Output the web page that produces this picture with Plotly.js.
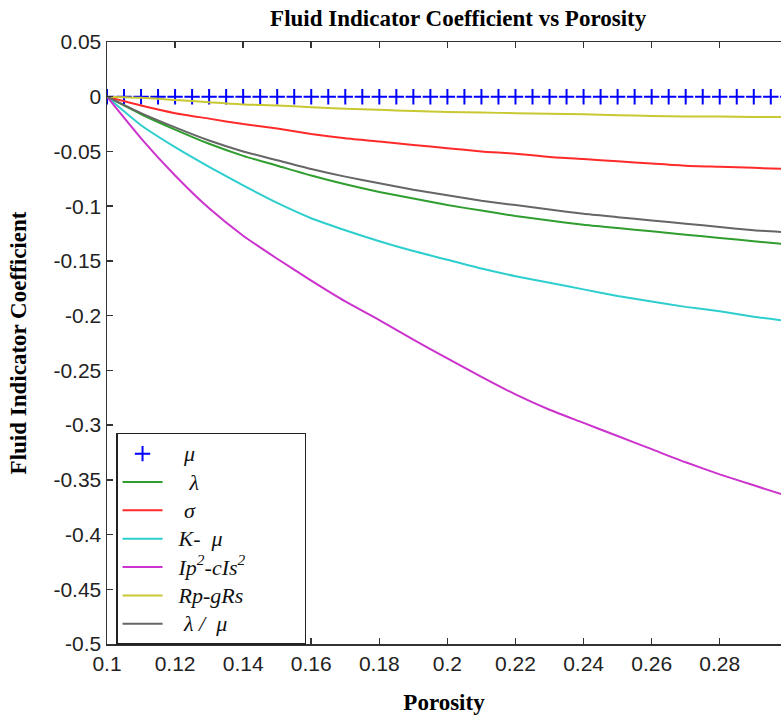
<!DOCTYPE html>
<html>
<head>
<meta charset="utf-8">
<script src="https://cdn.plot.ly/plotly-3.0.1.min.js"></script>
<style>html,body{margin:0;padding:0;background:#fff;}</style>
</head>
<body>
<div id="chart" style="width:781px;height:717px;"></div>
<script>
// Porosity values (x)
const porosity = [0.1, 0.11, 0.12, 0.13, 0.14, 0.15, 0.16, 0.17, 0.18, 0.19, 0.2, 0.21, 0.22, 0.23, 0.24, 0.25, 0.26, 0.27, 0.28, 0.29, 0.3];
// Series
const lambda    = [0, -0.016, -0.030, -0.043, -0.054, -0.063, -0.072, -0.080, -0.087, -0.093, -0.099, -0.104, -0.109, -0.113, -0.117, -0.120, -0.123, -0.126, -0.129, -0.132, -0.135];
const sigma     = [0, -0.008, -0.015, -0.020, -0.025, -0.029, -0.034, -0.038, -0.041, -0.044, -0.047, -0.050, -0.052, -0.055, -0.057, -0.059, -0.061, -0.063, -0.064, -0.065, -0.066];
const kMinusMu  = [0, -0.026, -0.046, -0.064, -0.081, -0.097, -0.111, -0.122, -0.132, -0.141, -0.149, -0.157, -0.164, -0.170, -0.176, -0.182, -0.187, -0.192, -0.196, -0.201, -0.205];
const ipCis     = [0, -0.038, -0.072, -0.102, -0.127, -0.148, -0.168, -0.187, -0.204, -0.222, -0.239, -0.256, -0.272, -0.286, -0.298, -0.310, -0.322, -0.334, -0.345, -0.355, -0.365];
const rpGrs     = [0, -0.001, -0.003, -0.005, -0.007, -0.008, -0.0095, -0.011, -0.012, -0.013, -0.014, -0.0145, -0.015, -0.0155, -0.016, -0.017, -0.0175, -0.018, -0.018, -0.0185, -0.0185];
const lamOverMu = [0, -0.015, -0.028, -0.040, -0.050, -0.058, -0.066, -0.073, -0.079, -0.085, -0.090, -0.095, -0.099, -0.103, -0.107, -0.110, -0.113, -0.116, -0.119, -0.122, -0.124];
// mu markers (every 0.005)
const muX = [0.1,0.105,0.11,0.115,0.12,0.125,0.13,0.135,0.14,0.145,0.15,0.155,0.16,0.165,0.17,0.175,0.18,0.185,0.19,0.195,0.2,0.205,0.21,0.215,0.22,0.225,0.23,0.235,0.24,0.245,0.25,0.255,0.26,0.265,0.27,0.275,0.28,0.285,0.29,0.295,0.3];
const muY = [0,0,0,0,0,0,0,0,0,0,0,0,0,0,0,0,0,0,0,0,0,0,0,0,0,0,0,0,0,0,0,0,0,0,0,0,0,0,0,0,0];
// Tick labels
const xTickVals = [0.1, 0.12, 0.14, 0.16, 0.18, 0.2, 0.22, 0.24, 0.26, 0.28];
const xTickText = ['0.1','0.12','0.14','0.16','0.18','0.2','0.22','0.24','0.26','0.28'];
const yTickVals = [0.05, 0, -0.05, -0.1, -0.15, -0.2, -0.25, -0.3, -0.35, -0.4, -0.45, -0.5];
const yTickText = ['0.05','0','-0.05','-0.1','-0.15','-0.2','-0.25','-0.3','-0.35','-0.4','-0.45','-0.5'];

const NB = '\u00a0';
function sp(n) { return NB.repeat(n); }
function lg(s) { return '<span style="font-size:22px">' + s + '</span>'; }
const names = [
  lg(sp(3) + '<i>μ</i>'),
  lg(sp(4) + '<i>λ</i>'),
  lg(sp(3) + '<i>σ</i>'),
  lg(sp(2) + '<i>K-' + sp(2) + 'μ</i>'),
  lg(sp(2) + '<i>Ip<sup>2</sup>-cIs<sup>2</sup></i>'),
  lg(sp(2) + '<i>Rp-gRs</i>'),
  lg(sp(3) + '<i>λ' + NB + '/' + sp(2) + 'μ</i>' + sp(13))
];

function line(y, color, name, g) {
  return {x: porosity, y: y, type: 'scatter', mode: 'lines', name: name, legendgroup: g,
          line: {color: color, width: 2, shape: 'spline', smoothing: 0.6}};
}

const traces = [
  {x: muX, y: muY, type: 'scatter', mode: 'markers', name: names[0], legendgroup: 'a',
   marker: {symbol: 'cross-thin', size: 11, line: {color: '#0000ff', width: 2}, color: '#0000ff'}},
  line(lambda, '#2f9e2f', names[1], 'b'),
  line(sigma, '#ff2a2a', names[2], 'c'),
  line(kMinusMu, '#2ecece', names[3], 'd'),
  line(ipCis, '#cc33cc', names[4], 'e'),
  line(rpGrs, '#c8c832', names[5], 'f'),
  line(lamOverMu, '#666666', names[6], 'g')
];

const axFont = {family: 'Liberation Sans, Arial, sans-serif', size: 21, color: '#222'};
const titleFont = {family: 'Liberation Serif, Times New Roman, serif', size: 23, color: '#000', weight: 'bold'};

const layout = {
  width: 781, height: 717,
  margin: {l: 107, r: 0, t: 42, b: 73, pad: 0},
  paper_bgcolor: '#fff', plot_bgcolor: '#fff',
  showlegend: true,
  title: {text: 'Fluid Indicator Coefficient vs Porosity', font: titleFont,
          xref: 'paper', x: 0.521, xanchor: 'center', yref: 'container', y: 0.975, yanchor: 'middle'},
  xaxis: {range: [0.1, 0.298], tickvals: xTickVals, ticktext: xTickText,
          ticks: 'inside', ticklen: 6, tickwidth: 1.5, tickcolor: '#333',
          showline: true, linecolor: '#333', linewidth: 1.5, mirror: 'ticks',
          showgrid: false, zeroline: false, tickfont: axFont,
          title: {text: 'Porosity', font: titleFont, standoff: 20}},
  yaxis: {range: [-0.5, 0.05], tickvals: yTickVals, ticktext: yTickText,
          ticks: 'inside', ticklen: 6, tickwidth: 1.5, tickcolor: '#333',
          showline: true, linecolor: '#333', linewidth: 1.5, mirror: false,
          showgrid: false, zeroline: false, tickfont: axFont,
          title: {text: 'Fluid Indicator Coefficient', font: titleFont, standoff: 20}},
  legend: {x: 0.0134, y: 0.3505, xanchor: 'left', yanchor: 'top',
           bgcolor: '#fff', bordercolor: '#222', borderwidth: 1.5,
           font: {family: 'Liberation Serif, Times New Roman, serif', size: 19.5, color: '#111'},
           tracegroupgap: 0, itemwidth: 40}
};

Plotly.newPlot('chart', traces, layout, {displayModeBar: false, staticPlot: true});
</script>
</body>
</html>
